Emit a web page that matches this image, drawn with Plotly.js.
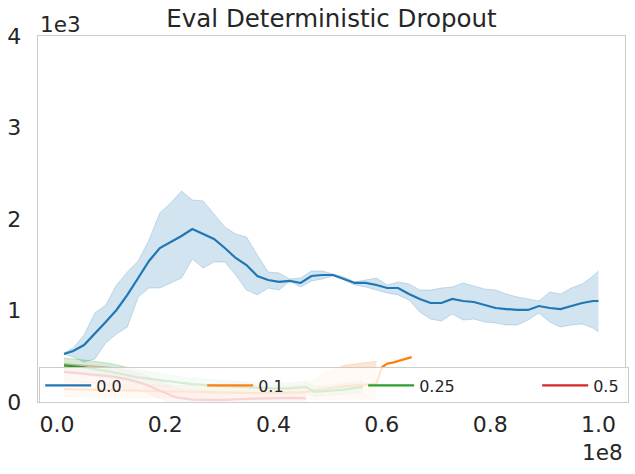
<!DOCTYPE html>
<html>
<head>
<meta charset="utf-8">
<script src="https://cdn.plot.ly/plotly-3.0.1.min.js"></script>
<style>html,body{margin:0;padding:0;background:#fff;}#chart{width:635px;height:474px;}</style>
</head>
<body>
<div id="chart"></div>
<script>
// x in units of 1e8 steps, y in units of returns (axis shown in 1e3)
const steps00 = [0.013,0.03,0.05,0.07,0.09,0.11,0.13,0.15,0.17,0.19,
                 0.21,0.23,0.25,0.27,0.29,0.31,0.33,0.35,0.37,0.39,
                 0.41,0.43,0.45,0.47,0.49,0.51,0.53,0.55,0.57,0.59,
                 0.61,0.63,0.65,0.67,0.69,0.71,0.73,0.75,0.77,0.79,
                 0.81,0.83,0.85,0.87,0.89,0.91,0.93,0.95,0.97,0.99,1.0];
const mean00 = [525,557,623,743,874,1006,1170,1355,1541,1683,
                1749,1814,1891,1836,1782,1683,1574,1497,1377,1333,
                1312,1323,1301,1377,1388,1388,1344,1301,1301,1279,
                1246,1246,1180,1126,1082,1082,1126,1104,1093,1060,
                1027,1016,1006,1006,1049,1027,1016,1049,1082,1104,1104];
const upper00 = [536,590,732,973,1060,1279,1421,1541,1771,2066,
                 2175,2306,2208,2197,2055,1913,1836,1803,1607,1421,
                 1410,1344,1355,1432,1432,1399,1366,1312,1333,1355,
                 1279,1312,1290,1224,1224,1246,1257,1301,1268,1235,
                 1224,1180,1148,1126,1104,1202,1180,1246,1290,1377,1432];
const lower00 = [525,492,437,470,645,743,820,1148,1246,1246,
                 1301,1355,1563,1465,1530,1530,1388,1224,1170,1246,
                 1224,1323,1257,1323,1344,1377,1333,1279,1257,1224,
                 1191,1170,1115,984,907,885,962,896,907,874,
                 863,842,842,896,973,874,820,842,853,809,765];

const steps01 = [0.013,0.05,0.1,0.15,0.2,0.25,0.3,0.35,0.4,0.45,0.47,0.5,0.53,0.56,0.59,0.6,0.61,0.62,0.63,0.64,0.655];
const mean01  = [140,135,125,120,115,110,105,100,100,105,120,150,170,185,200,380,420,430,445,460,490];
const bandSteps01 = [0.013,0.05,0.1,0.15,0.2,0.25,0.3,0.35,0.4,0.45,0.47,0.5,0.53,0.56,0.59];
const upper01 = [230,220,200,190,185,180,175,170,175,185,230,330,400,425,445];
const lower01 = [60,55,55,50,45,40,40,35,30,30,30,35,30,30,30];

const steps025 = [0.013,0.05,0.1,0.15,0.2,0.25,0.3,0.35,0.4,0.43,0.46,0.475,0.5,0.53,0.565];
const mean025  = [400,380,330,270,230,195,175,160,150,150,165,110,120,135,165];
const upper025 = [480,460,420,350,300,260,240,220,210,210,230,170,180,200,230];
const lower025 = [330,300,250,200,160,130,115,100,90,90,100,60,70,80,100];

const steps05 = [0.013,0.05,0.1,0.13,0.16,0.18,0.2,0.22,0.25,0.3,0.35,0.4,0.44,0.46];
const mean05  = [330,310,280,250,200,150,100,50,25,20,35,45,45,40];
const upper05 = [420,400,380,350,300,250,200,150,110,90,100,110,110,100];
const lower05 = [240,220,180,150,110,60,20,-20,-40,-50,-40,-30,-30,-30];

const labels = ['0.0','0.1','0.25','0.5'];
const colors = ['31,119,180','255,127,14','44,160,44','214,39,40'];
const legendWidths = [101, 100, 113, 30];

const xTicks = [0,0.2,0.4,0.6,0.8,1.0];
const xTickText = ['0.0','0.2','0.4','0.6','0.8','1.0'];
const yTicks = [0,1000,2000,3000,4000];
const yTickText = ['0','1','2','3','4'];

const groups = [
  {x: steps00, bx: steps00, m: mean00, u: upper00, l: lower00},
  {x: steps01, bx: bandSteps01, m: mean01, u: upper01, l: lower01},
  {x: steps025, bx: steps025, m: mean025, u: upper025, l: lower025},
  {x: steps05, bx: steps05, m: mean05, u: upper05, l: lower05}
];

const traces = [];
groups.forEach((g, i) => {
  const c = colors[i];
  traces.push({x: g.bx, y: g.u, mode: 'lines', line: {color: 'rgba(' + c + ',0.22)', width: 1},
               showlegend: false, hoverinfo: 'skip', type: 'scatter'});
  traces.push({x: g.bx, y: g.l, mode: 'lines', line: {color: 'rgba(' + c + ',0.22)', width: 1},
               fill: 'tonexty', fillcolor: 'rgba(' + c + ',0.2)',
               showlegend: false, hoverinfo: 'skip', type: 'scatter'});
});
groups.forEach((g, i) => {
  traces.push({x: g.x, y: g.m, mode: 'lines', name: labels[i], legendwidth: legendWidths[i],
               line: {color: 'rgb(' + colors[i] + ')', width: 2.2}, type: 'scatter'});
});

const layout = {
  width: 635, height: 474,
  margin: {l: 38, r: 10, t: 36, b: 72},
  paper_bgcolor: '#ffffff', plot_bgcolor: '#ffffff',
  font: {family: 'DejaVu Sans', color: '#262626', size: 16},
  title: {text: 'Eval Deterministic Dropout', font: {family: 'DejaVu Sans', color: '#262626', size: 24.5},
          x: 0.5, xanchor: 'center', y: 0.962, yanchor: 'middle', xref: 'paper'},
  xaxis: {range: [-0.035, 1.049], tickvals: xTicks, ticktext: xTickText, showgrid: false, zeroline: false,
          showline: true, mirror: true, linecolor: '#cccccc', linewidth: 1.25, ticks: '',
          ticklabelstandoff: 2, tickfont: {family: 'DejaVu Sans', color: '#262626', size: 22}},
  yaxis: {range: [0, 4000], tickvals: yTicks, ticktext: yTickText, showgrid: false, zeroline: false,
          showline: true, mirror: true, linecolor: '#cccccc', linewidth: 1.25, ticks: '',
          ticklabelstandoff: 11, tickfont: {family: 'DejaVu Sans', color: '#262626', size: 22}},
  legend: {orientation: 'h', x: 0.002, xanchor: 'left', y: -0.004, yanchor: 'bottom',
           bgcolor: 'rgba(255,255,255,0.8)', bordercolor: '#cccccc', borderwidth: 1,
           font: {family: 'DejaVu Sans', color: '#262626', size: 16},
           itemwidth: 46, traceorder: 'normal'},
  annotations: [
    {text: '1e3', xref: 'paper', yref: 'paper', x: 0, y: 1, xanchor: 'left', yanchor: 'bottom',
     showarrow: false, yshift: -3, font: {family: 'DejaVu Sans', color: '#262626', size: 21.5}},
    {text: '1e8', xref: 'paper', yref: 'paper', x: 1, y: 0, xanchor: 'right', yanchor: 'top',
     showarrow: false, yshift: -36, xshift: 0, font: {family: 'DejaVu Sans', color: '#262626', size: 21.5}}
  ],
  showlegend: true
};

Plotly.newPlot('chart', traces, layout, {displayModeBar: false, staticPlot: true});
</script>
</body>
</html>
